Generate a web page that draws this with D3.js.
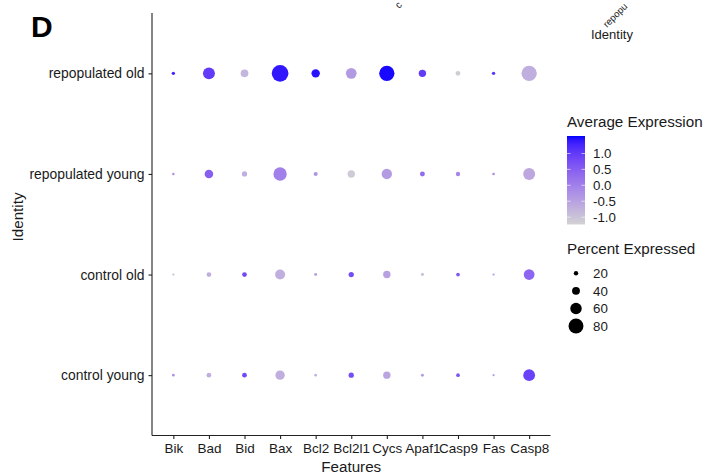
<!DOCTYPE html>
<html>
<head>
<meta charset="utf-8">
<script src="https://cdn.jsdelivr.net/npm/d3@7"></script>
<style>
  html, body { margin: 0; padding: 0; background: #ffffff; }
  svg { display: block; font-family: "Liberation Sans", Arial, Helvetica, sans-serif; }
</style>
</head>
<body>
<svg id="chart" width="709" height="475"></svg>
<script>
// ---- data ----
const features = ["Bik", "Bad", "Bid", "Bax", "Bcl2", "Bcl2l1", "Cycs", "Apaf1", "Casp9", "Fas", "Casp8"];
const identities = ["repopulated old", "repopulated young", "control old", "control young"];

const pctRepopOld      = [14, 63, 39, 90, 43, 56, 82, 37, 22, 14, 82];
const pctRepopYoung    = [9, 44, 25, 71, 18, 37, 54, 23, 20, 10, 63];
const pctControlOld    = [8, 22, 22, 52, 12, 25, 37, 12, 16, 8, 56];
const pctControlYoung  = [10, 22, 22, 48, 10, 25, 37, 12, 16, 7, 62];

const expRepopOld      = [1.3, 1.0, -0.8, 1.4, 1.45, -0.4, 1.5, 1.0, -1.15, 1.1, -0.7];
const expRepopYoung    = [-0.2, 0.5, -0.7, 0.0, -0.3, -1.1, -0.4, 0.3, -0.1, -0.2, -0.6];
const expControlOld    = [-1.0, -0.7, 0.8, -0.7, -0.5, 0.75, -0.5, -0.9, 0.6, -0.5, 0.4];
const expControlYoung  = [-0.2, -0.7, 0.8, -0.7, -0.65, 0.75, -0.55, -0.4, 0.65, -0.4, 0.9];

const colorTicks = [1.0, 0.5, 0.0, -0.5, -1.0];
const colorTickLabels = ["1.0", "0.5", "0.0", "-0.5", "-1.0"];
const sizeTicks = [20, 40, 60, 80];
const colorLimits = [-1.23, 1.546];

const pctRows = [pctRepopOld, pctRepopYoung, pctControlOld, pctControlYoung];
const expRows = [expRepopOld, expRepopYoung, expControlOld, expControlYoung];

const rows = [];
identities.forEach((id, i) => {
  features.forEach((f, j) => {
    rows.push({ id, f, pct: pctRows[i][j], exp: expRows[i][j] });
  });
});

// ---- layout ----
const svg = d3.select("#chart");
const panel = { left: 152, right: 550.5, top: 13, bottom: 435.5 };
const textCol = "#1a1a1a";

const x = d3.scalePoint().domain(features).range([panel.left, panel.right]).padding(0.6);
const y = d3.scalePoint().domain(identities).range([panel.top, panel.bottom]).padding(0.6);
const r = d3.scaleLinear().domain([0, 100]).range([0.43, 9.23]);
const color = d3.scaleLinear().domain(colorLimits).range(["lightgrey", "blue"]).interpolate(d3.interpolateLab);

// points
svg.append("g").selectAll("circle").data(rows).join("circle")
  .attr("cx", d => x(d.f))
  .attr("cy", d => y(d.id))
  .attr("r", d => r(d.pct))
  .attr("fill", d => color(d.exp));

// axes
const xAxis = svg.append("g").attr("transform", `translate(0,${panel.bottom})`)
  .call(d3.axisBottom(x).tickSize(3.5).tickPadding(4));
xAxis.select(".domain").attr("d", `M${panel.left},0H${panel.right}`).attr("stroke", "#222").attr("stroke-width", 1.1);
xAxis.selectAll(".tick line").attr("stroke", "#222").attr("stroke-width", 1.1);
xAxis.selectAll(".tick text").attr("font-size", 13.5).attr("fill", textCol).attr("font-family", "Liberation Sans, Arial, sans-serif");

const yAxis = svg.append("g").attr("transform", `translate(${panel.left},0)`)
  .call(d3.axisLeft(y).tickSize(3.5).tickPadding(4));
yAxis.select(".domain").attr("d", `M0,${panel.top}V${panel.bottom}`).attr("stroke", "#222").attr("stroke-width", 1.1);
yAxis.selectAll(".tick line").attr("stroke", "#222").attr("stroke-width", 1.1);
yAxis.selectAll(".tick text").attr("font-size", 13.9).attr("fill", textCol).attr("font-family", "Liberation Sans, Arial, sans-serif");

// axis titles
svg.append("text").attr("x", (panel.left + panel.right) / 2).attr("y", 472)
  .attr("text-anchor", "middle").attr("font-size", 15.2).attr("fill", textCol).text("Features");
svg.append("text").attr("transform", `translate(23,217) rotate(-90)`)
  .attr("text-anchor", "middle").attr("font-size", 15.2).attr("fill", textCol).text("Identity");

// panel tag
svg.append("text").attr("x", 31).attr("y", 36.5).attr("font-size", 30).attr("font-weight", "bold")
  .attr("fill", "#000").text("D");

// remnants at the top (from a neighbouring legend), kept inside the canvas
svg.append("text").attr("transform", "translate(399,9) rotate(-45)")
  .attr("font-size", 10).attr("fill", textCol).text("c");
svg.append("text").attr("transform", "translate(607,28) rotate(-45)")
  .attr("font-size", 9.5).attr("fill", textCol).text("repopu");
svg.append("text").attr("x", 591).attr("y", 39)
  .attr("font-size", 13).attr("fill", textCol).text("Identity");

// ---- colour legend ----
const leg = svg.append("g");
leg.append("text").attr("x", 567).attr("y", 127).attr("font-size", 15.2).attr("fill", textCol).text("Average Expression");
const barTop = 136, barBottom = 224.5, barX = 567, barW = 18;
const cy = d3.scaleLinear().domain(colorLimits).range([barBottom, barTop]);
const defs = svg.append("defs");
const grad = defs.append("linearGradient").attr("id", "cbar").attr("x1", 0).attr("y1", 1).attr("x2", 0).attr("y2", 0);
d3.range(0, 1.0001, 0.05).forEach(t => {
  const v = colorLimits[0] + t * (colorLimits[1] - colorLimits[0]);
  grad.append("stop").attr("offset", t).attr("stop-color", color(v));
});
leg.append("rect").attr("x", barX).attr("y", barTop).attr("width", barW).attr("height", barBottom - barTop)
  .attr("fill", "url(#cbar)");
colorTicks.forEach((t, i) => {
  leg.append("line").attr("x1", barX).attr("x2", barX + 3.5).attr("y1", cy(t)).attr("y2", cy(t))
    .attr("stroke", "#fff").attr("stroke-width", 0.8).attr("opacity", 0.8);
  leg.append("line").attr("x1", barX + barW - 3.5).attr("x2", barX + barW).attr("y1", cy(t)).attr("y2", cy(t))
    .attr("stroke", "#fff").attr("stroke-width", 0.8).attr("opacity", 0.8);
  leg.append("text").attr("x", 593).attr("y", cy(t)).attr("dy", "0.36em")
    .attr("font-size", 13.3).attr("fill", textCol).text(colorTickLabels[i]);
});

// ---- size legend ----
leg.append("text").attr("x", 567).attr("y", 254).attr("font-size", 15.2).attr("fill", textCol).text("Percent Expressed");
const sy = d3.scaleLinear().domain([20, 80]).range([273.3, 326]);
sizeTicks.forEach(t => {
  leg.append("circle").attr("cx", 576).attr("cy", sy(t)).attr("r", r(t)).attr("fill", "#000");
  leg.append("text").attr("x", 593).attr("y", sy(t)).attr("dy", "0.36em")
    .attr("font-size", 13.3).attr("fill", textCol).text(t);
});
</script>
</body>
</html>
